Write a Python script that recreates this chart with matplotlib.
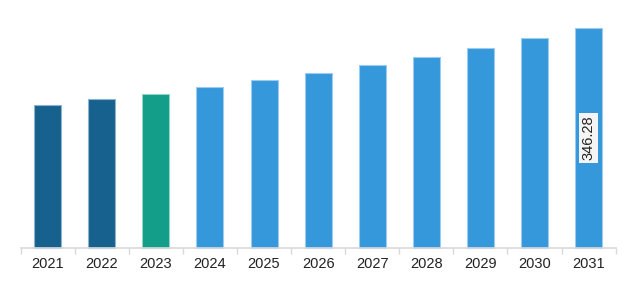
import matplotlib
matplotlib.use("Agg")
import matplotlib.pyplot as plt
import numpy as np

years = ["2021", "2022", "2023", "2024", "2025", "2026",
         "2027", "2028", "2029", "2030", "2031"]
values = [225.6, 234.1, 243.0, 253.1, 264.1, 275.2,
          287.8, 300.9, 315.2, 330.5, 346.28]
colors = ["#17618f", "#17618f", "#139e8a"] + ["#3498db"] * 8
edges = ["#8fb3cc", "#8fb3cc", "#8fd2c6"] + ["#9ccbef"] * 8

fig = plt.figure(figsize=(6.25, 2.87), dpi=100)
ax = fig.add_axes([0.033, 0.1376, 0.952, 0.7638])

x = np.arange(len(years))
ax.bar(x, values, width=0.5, color=colors, edgecolor=edges, linewidth=0.8,
       clip_on=False)

ax.set_xlim(-0.5, len(years) - 0.5)
ax.set_ylim(0, values[-1])

# label on last bar
ax.text(x[-1], values[-1] / 2, f"{values[-1]:.2f}", rotation=90,
        ha="center", va="center", fontsize=10.5, family="Liberation Sans",
        color="#222222",
        bbox=dict(boxstyle="square,pad=0.2", facecolor="#f4f4f4",
                  edgecolor="none"))

ax.set_yticks([])
ax.set_xticks(x)
ax.set_xticklabels(years, fontsize=10.5, family="Liberation Sans", color="#222222")
ax.set_xticks(np.arange(-0.5, len(years)), minor=True)
ax.tick_params(axis="x", which="major", length=0, pad=7)
ax.tick_params(axis="x", which="minor", length=4, color="#d9d9d9", width=1)
for side in ["top", "right", "left"]:
    ax.spines[side].set_visible(False)
ax.spines["bottom"].set_color("#d9d9d9")
ax.spines["bottom"].set_linewidth(1.2)

plt.savefig("out.png", dpi=100)
plt.close()
